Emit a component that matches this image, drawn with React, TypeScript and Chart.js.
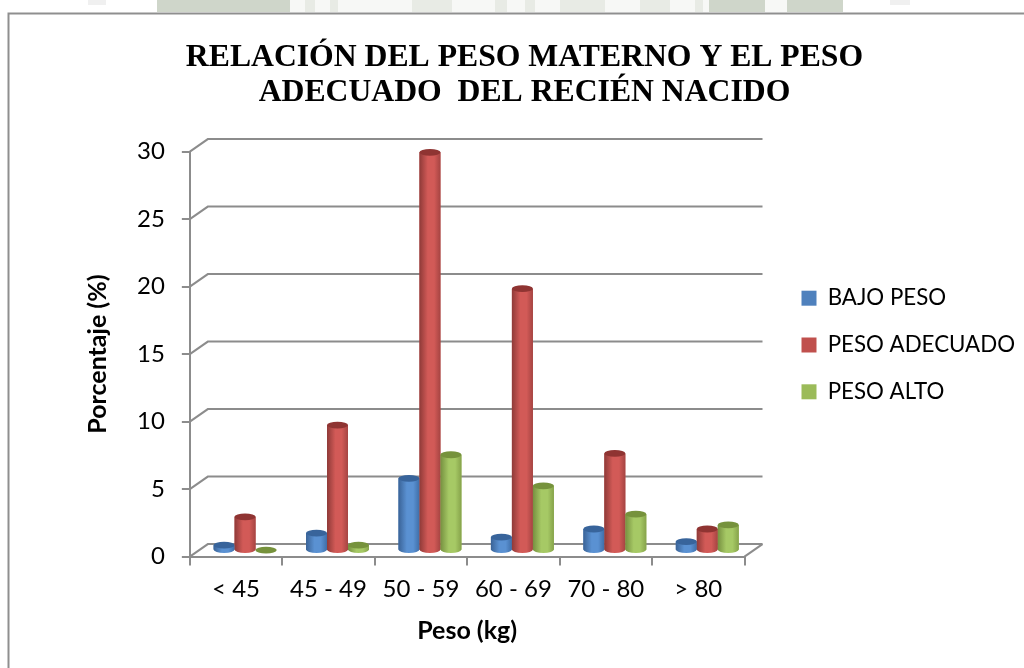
import React, { useEffect, useRef } from "react";
import { Chart, registerables } from "chart.js";

Chart.register(...registerables);

const categories = ["< 45", "45 - 49", "50 - 59", "60 - 69", "70 - 80", "> 80"];
const bajoPeso = [0.4, 1.3, 5.35, 1.0, 1.6, 0.67];
const pesoAdecuado = [2.5, 9.3, 29.5, 19.4, 7.2, 1.6];
const pesoAlto = [0.03, 0.4, 7.1, 4.8, 2.7, 1.9];
const titleLines = ["RELACIÓN DEL PESO MATERNO Y EL PESO", "ADECUADO  DEL RECIÉN NACIDO"];

const SANS = "Lato, Carlito, Calibri, sans-serif";
const AXIS = "#8c8c8c";
const BAR_DX = 9;
const BAR_DY = -6;
const WALL_DX = 18;
const WALL_DY = -12.5;
const CAP = 3.4;

const shades: Record<string, [string, string, string, string]> = {
  "#4F81BD": ["#3a6397", "#5a91d2", "#3f6ea8", "#38649b"],
  "#C0504D": ["#8f3a38", "#d25a57", "#a54442", "#8f3432"],
  "#9BBB59": ["#769040", "#a6c965", "#86a34a", "#76923c"],
};

const decor = {
  id: "decor",
  beforeDraw(chart: any) {
    const c = chart.ctx;
    c.save();
    c.fillStyle = "#fff";
    c.fillRect(0, 0, 1024, 668);
    c.fillStyle = "#cfd6ca";
    c.fillRect(157, 0, 686, 12);
    c.fillStyle = "#f7f8f6";
    c.fillRect(290, 0, 419, 12);
    c.fillRect(765, 0, 22, 12);
    c.fillStyle = "#e8ebe5";
    [[305, 10], [330, 8], [412, 40], [495, 12], [525, 10], [560, 45], [640, 30], [695, 8]].forEach(([x, w]) =>
      c.fillRect(x, 0, w, 12)
    );
    c.fillStyle = "#f0f0f0";
    c.fillRect(88, 0, 18, 5);
    c.fillRect(890, 0, 20, 5);
    c.strokeStyle = "#8f8f8f";
    c.lineWidth = 2;
    c.beginPath();
    c.moveTo(8.5, 668);
    c.lineTo(8.5, 13.5);
    c.lineTo(1024, 13.5);
    c.stroke();
    c.restore();
  },
};

const pinLayout = {
  id: "pinLayout",
  afterLayout(chart: any) {
    const t = chart.titleBlock;
    if (t) {
      t.left += 1;
    }
    const l = chart.legend;
    if (l) {
      l.left = 777;
      l.right = 1024;
      l.top = 0;
      l.bottom = 690;
    }
  },
};

const cylinders = {
  id: "cylinders",
  beforeDatasetsDraw(chart: any) {
    const c = chart.ctx;
    const y = chart.scales.y;
    const area = chart.chartArea;
    c.save();
    c.strokeStyle = AXIS;
    c.lineWidth = 2;
    y.ticks.forEach((t: any) => {
      const py = y.getPixelForValue(t.value);
      c.beginPath();
      c.moveTo(area.left, py);
      c.lineTo(area.left + WALL_DX, py + WALL_DY);
      c.lineTo(area.right + WALL_DX, py + WALL_DY);
      c.stroke();
    });
    const y0 = y.getPixelForValue(0);
    c.beginPath();
    c.moveTo(area.right, y0);
    c.lineTo(area.right + WALL_DX, y0 + WALL_DY);
    c.stroke();
    c.restore();
    c.save();
    c.translate(BAR_DX, BAR_DY);
  },
  afterDatasetsDraw(chart: any) {
    const c = chart.ctx;
    chart.data.datasets.forEach((ds: any, i: number) => {
      const [edge, light, edge2, cap] = shades[ds.backgroundColor];
      chart.getDatasetMeta(i).data.forEach((bar: any) => {
        const { x, y, base, width } = bar.getProps(["x", "y", "base", "width"], true);
        const l = x - width / 2;
        const r = x + width / 2;
        const g = c.createLinearGradient(l, 0, r, 0);
        g.addColorStop(0, edge);
        g.addColorStop(0.4, light);
        g.addColorStop(0.7, light);
        g.addColorStop(1, edge2);
        c.fillStyle = g;
        c.beginPath();
        c.moveTo(l, y);
        c.lineTo(l, base);
        c.ellipse(x, base, width / 2, CAP, 0, Math.PI, 0, true);
        c.lineTo(r, y);
        c.closePath();
        c.fill();
        c.fillStyle = cap;
        c.beginPath();
        c.ellipse(x, y, width / 2, CAP, 0, 0, Math.PI * 2);
        c.fill();
      });
    });
    c.restore();
  },
};

export default function App() {
  const ref = useRef<HTMLCanvasElement>(null);
  useEffect(() => {
    const chart = new Chart(ref.current!, {
      type: "bar",
      data: {
        labels: categories,
        datasets: [
          { label: "BAJO PESO", data: bajoPeso, backgroundColor: "#4F81BD" },
          { label: "PESO ADECUADO", data: pesoAdecuado, backgroundColor: "#C0504D" },
          { label: "PESO ALTO", data: pesoAlto, backgroundColor: "#9BBB59" },
        ],
      },
      options: {
        responsive: false,
        animation: false,
        layout: { padding: { left: 83, right: 59, top: 0, bottom: 21.6 } },
        datasets: { bar: { categoryPercentage: 0.681, barPercentage: 1 } },
        scales: {
          x: {
            grid: { drawOnChartArea: false, color: AXIS, lineWidth: 2, tickLength: 9 },
            border: { color: AXIS, width: 2 },
            ticks: { color: "#000", font: { family: SANS, size: 24 }, padding: 9, maxRotation: 0 },
            title: { display: true, text: "Peso (kg)", color: "#000", font: { family: SANS, size: 25, weight: "bold" }, padding: { top: 4, bottom: 0 } },
          },
          y: {
            min: 0,
            max: 30,
            grid: { drawOnChartArea: false, color: AXIS, lineWidth: 2, tickLength: 8 },
            border: { color: AXIS, width: 2 },
            ticks: { stepSize: 5, color: "#000", font: { family: SANS, size: 24 }, padding: 17 },
            title: { display: true, text: "Porcentaje (%)", color: "#000", font: { family: SANS, size: 25, weight: "bold" }, padding: { top: 0, bottom: 7 } },
          },
        },
        plugins: {
          title: {
            display: true,
            text: titleLines,
            color: "#000",
            font: { family: "'Liberation Serif', serif", size: 31.7, weight: "bold", lineHeight: 1.104 },
            padding: { top: 40, bottom: 41.6 },
          },
          legend: {
            position: "right",
            labels: { boxWidth: 15, boxHeight: 15, padding: 24.5, color: "#000", font: { family: SANS, size: 22.3 } },
          },
          tooltip: { enabled: false },
        },
      },
      plugins: [decor, pinLayout, cylinders],
    } as any);
    return () => chart.destroy();
  }, []);
  return <canvas ref={ref} width={1024} height={668} style={{ position: "fixed", left: 0, top: 0, display: "block" }} />;
}
